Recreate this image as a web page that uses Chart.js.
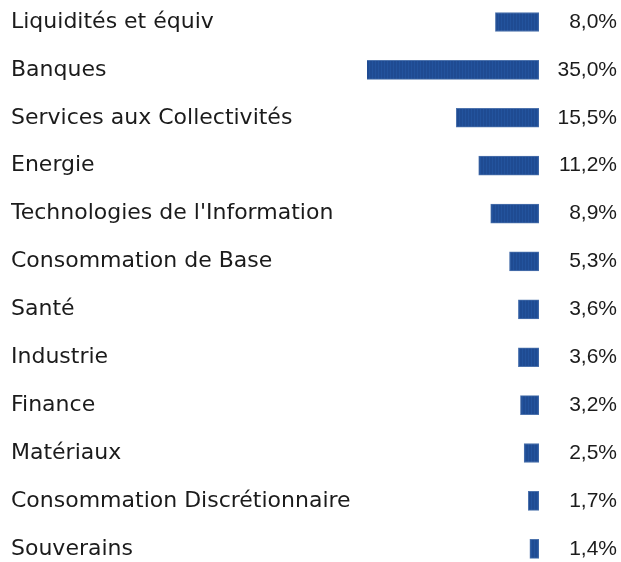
<!DOCTYPE html>
<html>
<head>
<meta charset="utf-8">
<script src="https://cdn.jsdelivr.net/npm/chart.js@4.4.1/dist/chart.umd.min.js"></script>
<style>
  html, body { margin: 0; padding: 0; background: #fff; }
  #wrap { width: 621px; height: 562px; }
</style>
</head>
<body>
<div id="wrap"><canvas id="myChart" width="621" height="562"></canvas></div>
<script>
let sectors = [
    'Liquidités et équiv',
    'Banques',
    'Services aux Collectivités',
    'Energie',
    "Technologies de l'Information",
    'Consommation de Base',
    'Santé',
    'Industrie',
    'Finance',
    'Matériaux',
    'Consommation Discrétionnaire',
    'Souverains'
];

let weights = [8.0, 35.0, 15.5, 11.2, 8.9, 5.3, 3.6, 3.6, 3.2, 2.5, 1.7, 1.4];

let weight_labels = weights.map(v => v.toFixed(1).replace('.', ',') + '%');

// striped fill like the original bars
function stripes()
{
    let c = document.createElement('canvas');
    c.width = 3;
    c.height = 4;
    let g = c.getContext('2d');
    g.fillStyle = '#1f4b92';
    g.fillRect(0, 0, 3, 4);
    g.fillStyle = '#23539d';
    g.fillRect(0, 0, 1, 4);
    return g.createPattern(c, 'repeat');
}

const label_font = { family: "'DejaVu Sans', sans-serif", size: 22 };
const value_font = { family: "'Liberation Sans', sans-serif", size: 21 };

let config = {
    type: 'bar',
    data: {
        labels: sectors,
        datasets: [{
            data: weights,
            base: -0.35,
            backgroundColor: stripes(),
            borderColor: '#4d73ad',
            borderWidth: 1,
            borderSkipped: false,
            barThickness: 19,
            clip: { left: 0, right: 0, top: false, bottom: false }
        }]
    },
    options: {
        indexAxis: 'y',
        responsive: false,
        animation: false,
        layout: {
            padding: { left: 11, right: 4, top: 22, bottom: 12 }
        },
        plugins: {
            legend: { display: false },
            tooltip: { enabled: false }
        },
        scales: {
            x: {
                display: false,
                reverse: true,
                min: -0.35,
                max: 32.6
            },
            y: {
                position: 'left',
                offset: false,
                grid: { display: false },
                border: { display: false },
                ticks: {
                    autoSkip: false,
                    crossAlign: 'far',
                    padding: 0,
                    color: '#1b1b1b',
                    font: label_font
                },
                afterFit(scale) {
                    scale.width = 356;
                }
            },
            y2: {
                type: 'category',
                position: 'right',
                labels: weight_labels,
                offset: false,
                grid: { display: false },
                border: { display: false },
                ticks: {
                    autoSkip: false,
                    crossAlign: 'far',
                    padding: 0,
                    color: '#1b1b1b',
                    font: value_font
                },
                afterFit(scale) {
                    scale.width = 78;
                }
            }
        }
    }
};

window.chart = new Chart(document.getElementById('myChart'), config);
</script>
</body>
</html>
